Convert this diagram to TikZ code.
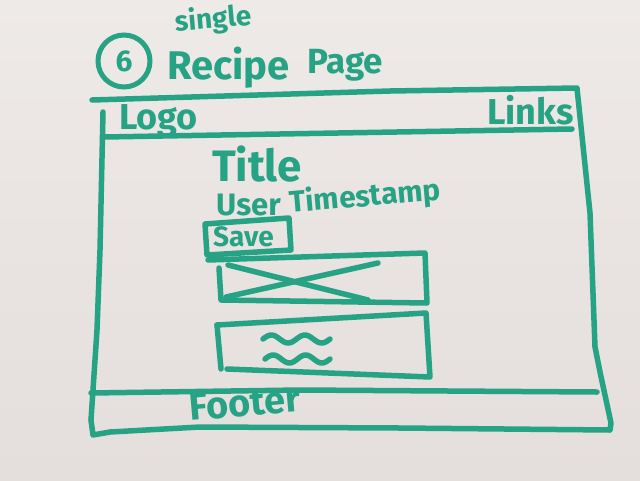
\documentclass[tikz,border=0pt]{standalone}
\usepackage{fontspec}
\setmainfont{Fira Sans}
\definecolor{ink}{RGB}{38,162,132}
\definecolor{boardtop}{RGB}{238,234,232}
\definecolor{boardbot}{RGB}{228,222,220}
\begin{document}
\begin{tikzpicture}[x=1pt,y=-1pt,
  pen/.style={draw=ink,line width=5.5pt,line cap=round,line join=round},
  scrawl/.style={text=ink,inner sep=0pt,font=\bfseries\fontsize{#1}{#1}\selectfont},
]
% whiteboard
\shade[top color=boardtop,bottom color=boardbot] (0,0) rectangle (640,480);
\useasboundingbox (0,0) rectangle (640,480);

% page heading
\node[circle,draw=ink,line width=5pt,minimum size=52pt,inner sep=0pt,scrawl=30] (num) at (124,61) {6};
\node[scrawl=28,rotate=5] (single) at (213,20) {single};
\node[scrawl=40,anchor=base west] (recipe) at (167,79) {Recipe};
\node[scrawl=35,anchor=base west] (page) at (307,73) {Page};

% outer frame: top, right side, bottom, left side
\draw[pen] (92,100) -- (390,91) -- (577,88) -- (590,213) -- (595,347)
  -- (600,372) -- (611,423) -- (610,430) -- (400,428) -- (200,427)
  -- (110,432) -- (93,435) -- (91,420);
\draw[pen] (103,112) -- (100,250) -- (97,330) -- (93,390) -- (91,420);

% header bar
\draw[pen] (104,137) -- (572,129);
\node[scrawl=36,anchor=base west] (logo) at (119,129) {Logo};
\node[scrawl=36,anchor=base west] (links) at (487,124) {Links};

% recipe heading block
\node[scrawl=44,anchor=base west] (title) at (212,181) {Title};
\node[scrawl=31,anchor=base west] (user) at (216,215) {User};
\node[scrawl=30,anchor=base west,rotate=5] (stamp) at (290,213) {Timestamp};

% save button
\draw[pen] (205,224) -- (289,218) -- (291,250) -- (207,255) -- cycle;
\node[scrawl=28,anchor=base west] (save) at (213,246) {Save};

% image placeholder
\draw[pen] (208,260) -- (425,253) -- (427,303) -- (222,300);
\draw[pen] (219,268) -- (221,300);
\draw[pen] (228,265) -- (368,300);
\draw[pen] (226,297) -- (378,263);

% text block with two squiggles
\draw[pen] (217,325) -- (426,313) -- (430,377) -- (227,369);
\draw[pen] (217,325) -- (221,369);
\draw[pen,smooth] plot[domain=0:1,samples=40] ({263+67*\x},{339-4*sin(720*\x)});
\draw[pen,smooth] plot[domain=0:1,samples=40] ({265+65*\x},{359-4*sin(720*\x)});

% footer bar
\draw[pen] (91,393) -- (300,390) -- (597,392);
\node[scrawl=38,anchor=base west,rotate=5] (footer) at (190,421) {Footer};
\end{tikzpicture}
\end{document}
